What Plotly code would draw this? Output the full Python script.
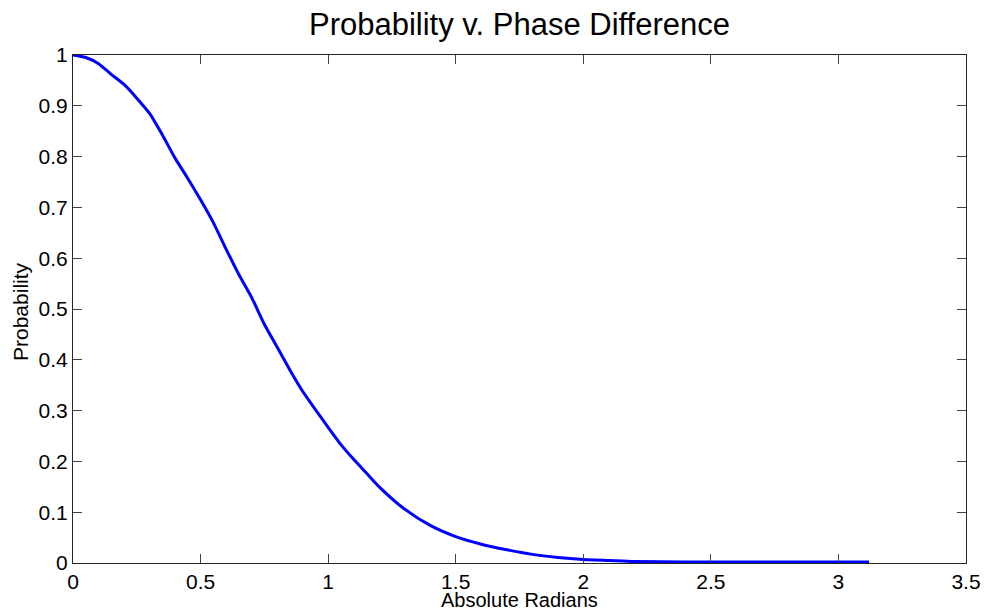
import plotly.graph_objects as go

# Data
radians = [0.0, 0.05, 0.1, 0.15, 0.2, 0.25, 0.3, 0.35, 0.4, 0.45, 0.5, 0.55, 0.6,
           0.65, 0.7, 0.75, 0.8, 0.85, 0.9, 0.95, 1.0, 1.05, 1.1, 1.15, 1.2,
           1.3, 1.4, 1.5, 1.6, 1.7, 1.8, 1.9, 2.0, 2.1, 2.2, 2.4, 2.6, 2.8, 3.0, 3.12]
probability = [1.0, 0.995, 0.983, 0.962, 0.942, 0.915, 0.885, 0.843, 0.797, 0.757,
               0.715, 0.670, 0.618, 0.568, 0.523, 0.470, 0.425, 0.380, 0.338, 0.302,
               0.267, 0.233, 0.204, 0.177, 0.150, 0.106, 0.074, 0.052, 0.037, 0.026,
               0.017, 0.011, 0.007, 0.005, 0.003, 0.002, 0.002, 0.002, 0.002, 0.002]

title_text = "Probability v. Phase Difference"
x_title = "Absolute Radians"
y_title = "Probability"

FONT = "Liberation Sans, Arial, Helvetica, sans-serif"

W, H = 984, 610

fig = go.Figure()
fig.add_trace(go.Scatter(
    x=radians, y=probability, mode="lines",
    line=dict(color="#0000FF", width=3, shape="spline", smoothing=0.6),
    showlegend=False,
))

axis_common = dict(
    showgrid=False, zeroline=False, automargin=False,
    showline=True, linecolor="#262626", linewidth=1,
    mirror="ticks", ticks="inside", ticklen=9, tickwidth=1,
    tickcolor="#404040",
    tickfont=dict(family=FONT, size=21, color="#000000"),
)

fig.update_layout(
    width=W, height=H,
    margin=dict(l=73, r=18, t=55, b=47),
    paper_bgcolor="#FFFFFF", plot_bgcolor="#FFFFFF",
    font=dict(family=FONT, color="#000000"),
    title=dict(text=title_text, x=0.5, xref="paper", xanchor="center",
               y=1 - 24 / H, yref="container", yanchor="middle",
               font=dict(family=FONT, size=31, color="#000000")),
    xaxis=dict(range=[0, 3.5], dtick=0.5, tick0=0, **axis_common),
    yaxis=dict(range=[0, 1], dtick=0.1, tick0=0, **axis_common),
    annotations=[
        dict(text=x_title, xref="paper", yref="paper", x=0.5, y=0,
             xanchor="center", yanchor="middle", yshift=-37, showarrow=False,
             font=dict(family=FONT, size=20, color="#000000")),
        dict(text=y_title, xref="paper", yref="paper", x=0, y=0.5,
             xanchor="center", yanchor="middle", xshift=-53, yshift=-3,
             textangle=-90, showarrow=False,
             font=dict(family=FONT, size=21, color="#000000")),
    ],
)

# Remove the browser's default 8px body margin so the figure fills the window.
fig.write_html(
    "out.html",
    config={"displayModeBar": False},
    post_script="document.body.style.margin='0';document.body.style.overflow='hidden';",
)
